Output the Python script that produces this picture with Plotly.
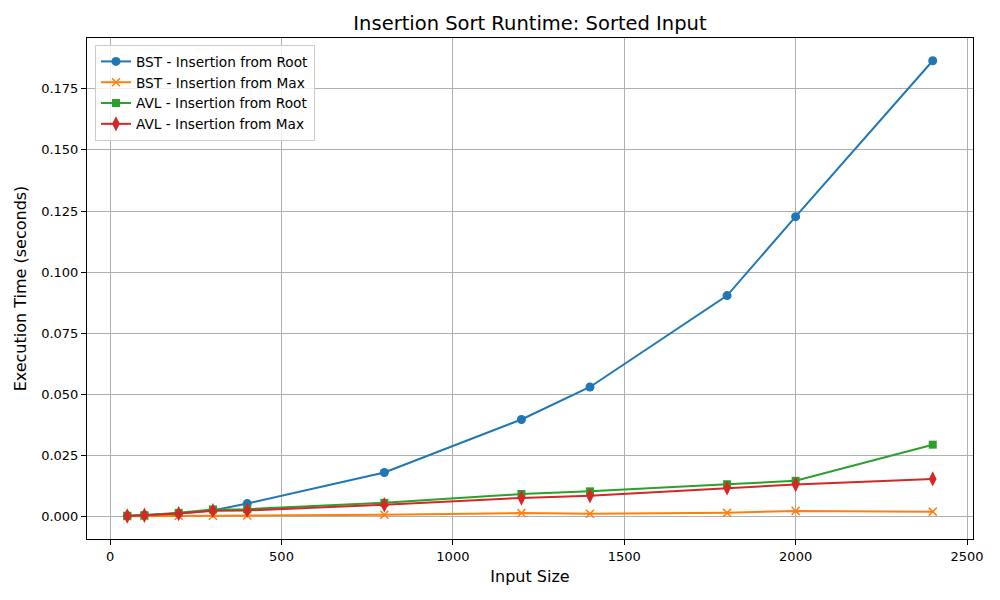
import plotly.graph_objects as go

input_sizes = [50, 100, 200, 300, 400, 800, 1200, 1400, 1800, 2000, 2400]
bst_root = [0.0002, 0.0005, 0.0012, 0.0025, 0.0053, 0.0180, 0.0397, 0.0530, 0.0904, 0.1227, 0.1865]
bst_max = [0.0001, 0.0002, 0.0003, 0.0003, 0.0004, 0.0007, 0.0014, 0.0011, 0.0015, 0.0023, 0.0020]
avl_root = [0.0003, 0.0005, 0.0015, 0.0029, 0.0030, 0.0056, 0.0092, 0.0103, 0.0132, 0.0146, 0.0294]
avl_max = [0.0002, 0.0005, 0.0012, 0.0024, 0.0025, 0.0048, 0.0076, 0.0085, 0.0117, 0.0131, 0.0154]

series = [
    ("BST - Insertion from Root", bst_root, "#1f77b4", "circle"),
    ("BST - Insertion from Max", bst_max, "#ff7f0e", "x-thin"),
    ("AVL - Insertion from Root", avl_root, "#2ca02c", "square"),
    ("AVL - Insertion from Max", avl_max, "#d62728", "diamond-tall"),
]

fig = go.Figure()
for name, vals, color, sym in series:
    marker = dict(symbol=sym, size=9, color=color)
    if sym == "x-thin":
        marker = dict(symbol=sym, size=8, color=color, line=dict(color=color, width=1.5))
    elif sym == "square":
        marker = dict(symbol=sym, size=8, color=color)
    elif sym == "diamond-tall":
        marker = dict(symbol=sym, size=11, color=color)
    fig.add_trace(go.Scatter(x=input_sizes, y=vals, mode="lines+markers", name=name,
                             line=dict(color=color, width=2), marker=marker))

axis_common = dict(showline=True, linecolor="black", linewidth=1, mirror=True,
                   showgrid=True, gridcolor="#b0b0b0", gridwidth=1,
                   ticks="outside", ticklen=5, tickcolor="black", automargin=False,
                   zeroline=False, tickfont=dict(size=13, color="black"))

fig.update_layout(
    width=1000, height=600,
    margin=dict(l=87, r=27, t=38, b=61),
    paper_bgcolor="white", plot_bgcolor="white",
    font=dict(family="DejaVu Sans", color="black"),
    title=dict(text="Insertion Sort Runtime: Sorted Input", x=0.5, xref="paper",
               yref="container", y=0.962, yanchor="middle", font=dict(size=19.5)),
    xaxis=dict(title=dict(text="Input Size", font=dict(size=16), standoff=8),
               range=[-67.5, 2517.5], tickvals=[0, 500, 1000, 1500, 2000, 2500], **axis_common),
    yaxis=dict(title=dict(text="Execution Time (seconds)", font=dict(size=16), standoff=10),
               range=[-0.0092, 0.1958], tickvals=[0, 0.025, 0.05, 0.075, 0.1, 0.125, 0.15, 0.175],
               tickformat=".3f", **axis_common),
    legend=dict(x=0.009, y=0.986, xanchor="left", yanchor="top",
                bgcolor="rgba(255,255,255,0.8)", bordercolor="#cccccc", borderwidth=1,
                font=dict(size=13.7), tracegroupgap=0, itemwidth=30),
)

fig.write_html("out.html", config={"displayModeBar": False},
               post_script="document.body.style.margin='0';")
